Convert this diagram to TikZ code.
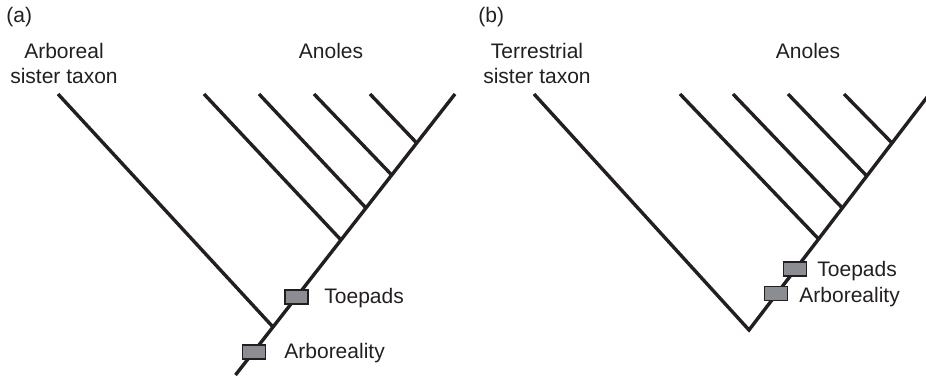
\documentclass[tikz,border=0pt]{standalone}
\usepackage{fontspec}
\setmainfont{Liberation Sans}
\definecolor{ink}{RGB}{35,31,32}
\definecolor{markfill}{RGB}{140,141,146}
\begin{document}
\begin{tikzpicture}[x=0.5pt,y=-0.5pt,
  branch/.style={draw=ink,line width=1.7pt},
  lbl/.style={inner sep=0pt,text=ink,font=\fontsize{10.5}{12.5}\selectfont},
  charbox/.style={draw=ink,fill=markfill,line width=0.6pt,minimum width=11.5pt,minimum height=7pt,inner sep=0pt}]
\useasboundingbox (0,0) rectangle (926,375);

% ---------------- panel (a) ----------------
\node[lbl,anchor=base west] (pa) at (6,23) {(a)};
\node[lbl,anchor=base,align=center] (sisA) at (64,83) {Arboreal\\sister taxon};
\node[lbl,anchor=base] (anA) at (331,58) {Anoles};

\coordinate (a0) at (235.5,375);
\coordinate (aR) at (273,327);
\coordinate (aJ1) at (341,240);
\coordinate (aJ2) at (366,208);
\coordinate (aJ3) at (391.7,175);
\coordinate (aJ4) at (416.7,143);
\coordinate (aT) at (455,94);
\coordinate (aS) at (58,94);
\coordinate (aL1) at (204,94);
\coordinate (aL2) at (259,94);
\coordinate (aL3) at (314,94);
\coordinate (aL4) at (370,94);

\draw[branch] (a0) -- (aT);
\draw[branch] (aS) -- (aR);
\draw[branch] (aL1) -- (aJ1);
\draw[branch] (aL2) -- (aJ2);
\draw[branch] (aL3) -- (aJ3);
\draw[branch] (aL4) -- (aJ4);

\node[charbox] (aToe) at (296.5,297) {};
\node[charbox] (aArb) at (254,352) {};
\node[lbl,anchor=base west] (aToeL) at (324,303) {Toepads};
\node[lbl,anchor=base west] (aArbL) at (284,358) {Arboreality};

% ---------------- panel (b) ----------------
\node[lbl,anchor=base west] (pb) at (478,23) {(b)};
\node[lbl,anchor=base,align=center] (sisB) at (537,83) {Terrestrial\\sister taxon};
\node[lbl,anchor=base] (anB) at (808,58) {Anoles};

\coordinate (bR) at (749,330);
\coordinate (bJ1) at (818.6,239);
\coordinate (bJ2) at (842.3,208);
\coordinate (bJ3) at (866.8,176);
\coordinate (bJ4) at (892,143);
\coordinate (bT) at (929.5,94);
\coordinate (bS) at (534,94);
\coordinate (bL1) at (680,94);
\coordinate (bL2) at (733,94);
\coordinate (bL3) at (788,94);
\coordinate (bL4) at (844,94);

\draw[branch] (bS) -- (bR) -- (bT);
\draw[branch] (bL1) -- (bJ1);
\draw[branch] (bL2) -- (bJ2);
\draw[branch] (bL3) -- (bJ3);
\draw[branch] (bL4) -- (bJ4);

\node[charbox] (bToe) at (795,269) {};
\node[charbox] (bArb) at (776,293.5) {};
\node[lbl,anchor=base west] (bToeL) at (817,276) {Toepads};
\node[lbl,anchor=base west] (bArbL) at (799,302) {Arboreality};
\end{tikzpicture}
\end{document}
